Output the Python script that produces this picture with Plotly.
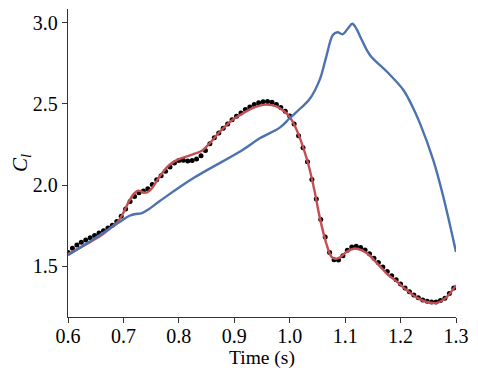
import plotly.graph_objects as go

# blue curve
blue_t = [0.600, 0.657, 0.693, 0.711, 0.722, 0.732, 0.745, 0.765, 0.825, 0.915, 0.946, 0.982,
          1.000, 1.020, 1.036, 1.054, 1.066, 1.078, 1.086, 1.096, 1.105, 1.113, 1.120, 1.127,
          1.145, 1.175, 1.205, 1.222, 1.235, 1.259, 1.277, 1.300]
blue_cl = [1.568, 1.691, 1.773, 1.811, 1.822, 1.825, 1.850, 1.900, 2.040, 2.216, 2.288, 2.354,
           2.412, 2.475, 2.530, 2.648, 2.792, 2.926, 2.942, 2.930, 2.965, 2.994, 2.965, 2.916,
           2.800, 2.700, 2.586, 2.480, 2.380, 2.154, 1.930, 1.588]

# red curve
red_t = [0.600, 0.630, 0.660, 0.680, 0.690, 0.700, 0.710, 0.720, 0.727, 0.735, 0.742, 0.750,
         0.765, 0.780, 0.795, 0.813, 0.830, 0.843, 0.855, 0.870, 0.886, 0.900, 0.916, 0.930,
         0.946, 0.958, 0.976, 0.990, 1.000, 1.010, 1.024, 1.035, 1.045, 1.054, 1.066, 1.075,
         1.082, 1.090, 1.104, 1.118, 1.130, 1.140, 1.160, 1.175, 1.195, 1.211, 1.230, 1.247,
         1.265, 1.283, 1.300]
red_cl = [1.574, 1.630, 1.690, 1.745, 1.775, 1.830, 1.900, 1.950, 1.966, 1.956, 1.954, 1.975,
          2.051, 2.115, 2.152, 2.175, 2.195, 2.215, 2.255, 2.315, 2.370, 2.410, 2.443, 2.470,
          2.490, 2.496, 2.485, 2.455, 2.420, 2.360, 2.236, 2.110, 1.960, 1.804, 1.640, 1.560,
          1.545, 1.554, 1.592, 1.609, 1.598, 1.578, 1.510, 1.455, 1.400, 1.352, 1.305, 1.280,
          1.274, 1.310, 1.383]

# reference points (black dots)
dot_t = [0.600, 0.608, 0.616, 0.624, 0.632, 0.640, 0.648, 0.656, 0.664, 0.672, 0.680, 0.688,
         0.696, 0.704, 0.712, 0.720, 0.728, 0.736, 0.744, 0.752, 0.760, 0.768, 0.776, 0.784,
         0.792, 0.800, 0.808, 0.816, 0.824, 0.832, 0.840, 0.848, 0.856, 0.864, 0.872, 0.880,
         0.888, 0.896, 0.904, 0.912, 0.920, 0.928, 0.936, 0.944, 0.952, 0.960, 0.968, 0.976,
         0.984, 0.992, 1.000, 1.008, 1.016, 1.024, 1.032, 1.040, 1.048, 1.056, 1.064, 1.072,
         1.080, 1.088, 1.096, 1.104, 1.112, 1.120, 1.128, 1.136, 1.144, 1.152, 1.160, 1.168,
         1.176, 1.184, 1.192, 1.200, 1.208, 1.216, 1.224, 1.232, 1.240, 1.248, 1.256, 1.264,
         1.272, 1.280, 1.288, 1.296]
dot_cl = [1.585, 1.610, 1.630, 1.647, 1.661, 1.675, 1.689, 1.704, 1.719, 1.735, 1.753, 1.776,
          1.808, 1.853, 1.898, 1.930, 1.953, 1.964, 1.978, 2.003, 2.033, 2.058, 2.085, 2.111,
          2.136, 2.151, 2.153, 2.149, 2.151, 2.161, 2.180, 2.213, 2.255, 2.292, 2.321, 2.350,
          2.377, 2.402, 2.424, 2.444, 2.465, 2.481, 2.496, 2.507, 2.513, 2.515, 2.511, 2.497,
          2.478, 2.455, 2.425, 2.377, 2.304, 2.230, 2.144, 2.035, 1.914, 1.788, 1.680, 1.584,
          1.540, 1.538, 1.565, 1.598, 1.618, 1.623, 1.615, 1.600, 1.577, 1.549, 1.523, 1.495,
          1.468, 1.441, 1.416, 1.390, 1.365, 1.343, 1.323, 1.306, 1.292, 1.284, 1.280, 1.280,
          1.289, 1.302, 1.332, 1.365]

serif = "Times New Roman, Liberation Serif, DejaVu Serif, serif"

fig = go.Figure()
fig.add_trace(go.Scatter(x=dot_t, y=dot_cl, mode='markers',
                         marker=dict(color='black', size=5), showlegend=False))
fig.add_trace(go.Scatter(x=red_t, y=red_cl, mode='lines', line_shape='spline',
                         line=dict(color='#c44e52', width=2.4), showlegend=False))
fig.add_trace(go.Scatter(x=blue_t, y=blue_cl, mode='lines', line_shape='spline',
                         line=dict(color='#4c72b0', width=2.4), showlegend=False))

axis_common = dict(showgrid=False, zeroline=False, showline=True, linecolor='#333333',
                   linewidth=1.3, ticks='outside', ticklen=5, tickwidth=1.3, tickcolor='#333333',
                   automargin=False,
                   tickfont=dict(family=serif, size=20, color='black'))

fig.update_xaxes(range=[0.6, 1.3], tickvals=[0.6, 0.7, 0.8, 0.9, 1.0, 1.1, 1.2, 1.3],
                 tickformat='.1f', ticklabelstandoff=-4,
                 title=dict(text='Time (s)', font=dict(family=serif, size=19.5, color='black'), standoff=1),
                 **axis_common)
fig.update_yaxes(range=[1.187, 3.085], tickvals=[1.5, 2.0, 2.5, 3.0], tickformat='.1f',
                 title=dict(text='<i>C<sub>l</sub></i>', font=dict(family=serif, size=21, color='black'), standoff=6),
                 **axis_common)

# page body has an 8px margin, so the figure is sized to fit inside the window
fig.update_layout(width=470, height=370,
                  font=dict(family=serif, color='black'),
                  plot_bgcolor='white', paper_bgcolor='white',
                  margin=dict(l=60, r=22, t=1, b=61))

fig.write_html("out.html")
